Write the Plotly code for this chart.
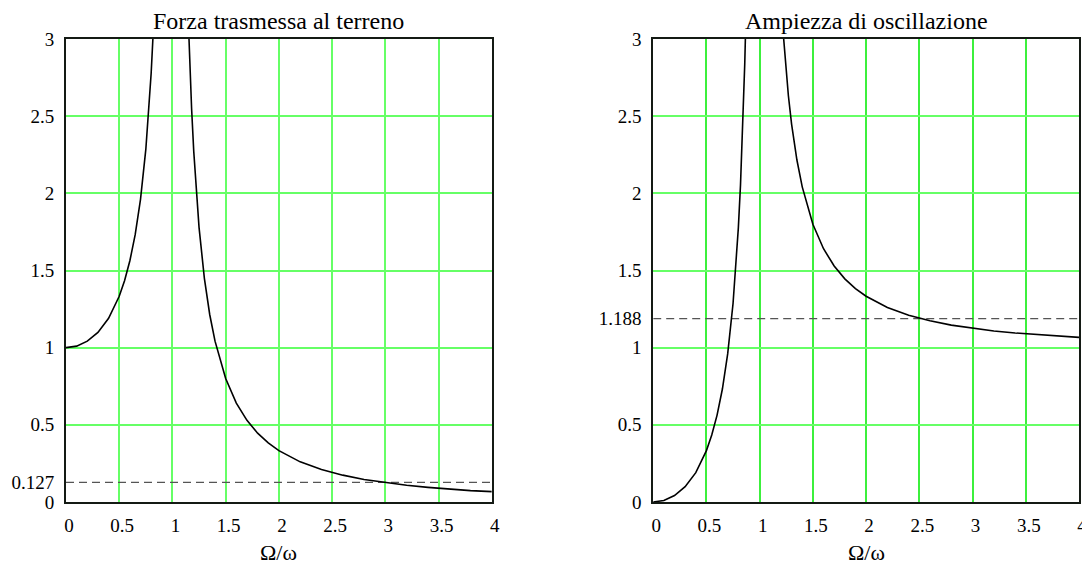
import plotly.graph_objects as go

# ---- data ----
# Left chart: "Forza trasmessa al terreno"
force_x_low = [0.0, 0.1, 0.2, 0.3, 0.4, 0.5, 0.55, 0.6, 0.65, 0.7, 0.75, 0.78, 0.8, 0.82]
force_y_low = [1.0, 1.01, 1.042, 1.099, 1.19, 1.333, 1.434, 1.563, 1.732, 1.961, 2.286, 2.554, 2.778, 3.053]
force_x_high = [1.15, 1.16, 1.18, 1.2, 1.25, 1.3, 1.35, 1.4, 1.5, 1.6, 1.7, 1.8, 1.9, 2.0, 2.2, 2.4, 2.6, 2.8, 3.0, 3.2, 3.4, 3.6, 3.8, 4.0]
force_y_high = [3.101, 2.894, 2.548, 2.273, 1.778, 1.449, 1.215, 1.042, 0.8, 0.641, 0.529, 0.446, 0.383, 0.333, 0.26, 0.21, 0.174, 0.146, 0.125, 0.108, 0.095, 0.084, 0.074, 0.067]
force_ref = 0.127

# Right chart: "Ampiezza di oscillazione"
amp_x_low = [0.0, 0.1, 0.2, 0.3, 0.4, 0.5, 0.55, 0.6, 0.65, 0.7, 0.75, 0.78, 0.8, 0.82, 0.84, 0.86, 0.87]
amp_y_low = [0.0, 0.01, 0.042, 0.099, 0.19, 0.333, 0.434, 0.563, 0.732, 0.961, 1.286, 1.554, 1.778, 2.053, 2.397, 2.84, 3.114]
amp_x_high = [1.22, 1.24, 1.27, 1.3, 1.35, 1.4, 1.5, 1.6, 1.7, 1.8, 1.9, 2.0, 2.2, 2.4, 2.6, 2.8, 3.0, 3.2, 3.4, 3.6, 3.8, 4.0]
amp_y_high = [3.048, 2.86, 2.632, 2.449, 2.216, 2.042, 1.8, 1.641, 1.529, 1.446, 1.383, 1.333, 1.26, 1.21, 1.174, 1.146, 1.125, 1.108, 1.095, 1.084, 1.074, 1.067]
amp_ref = 1.188

x_ticks = [0, 0.5, 1, 1.5, 2, 2.5, 3, 3.5, 4]
x_tick_text = ["0", "0.5", "1", "1.5", "2", "2.5", "3", "3.5", "4"]
y_grid = [0.5, 1, 1.5, 2, 2.5]
x_grid = [0.5, 1, 1.5, 2, 2.5, 3, 3.5]
titles = ["Forza trasmessa al terreno", "Ampiezza di oscillazione"]
x_title = "Ω/ω"

FONT = "Liberation Serif, Times New Roman, serif"
CURVE = dict(color="black", width=1.6)
DASH = dict(color="#555555", width=1.4, dash="8px,5px")

fig = go.Figure()

def add_panel(n, xs_lo, ys_lo, xs_hi, ys_hi, ref):
    xa = "x" if n == 1 else "x2"
    ya = "y" if n == 1 else "y2"
    fig.add_trace(go.Scatter(x=[x_ticks[0], x_ticks[-1]], y=[ref, ref], mode="lines", line=DASH,
                             xaxis=xa, yaxis=ya, showlegend=False))
    fig.add_trace(go.Scatter(x=xs_lo, y=ys_lo, mode="lines", line=CURVE, xaxis=xa, yaxis=ya, showlegend=False))
    fig.add_trace(go.Scatter(x=xs_hi, y=ys_hi, mode="lines", line=CURVE, xaxis=xa, yaxis=ya, showlegend=False))

add_panel(1, force_x_low, force_y_low, force_x_high, force_y_high, force_ref)
add_panel(2, amp_x_low, amp_y_low, amp_x_high, amp_y_high, amp_ref)

# page has an 8px body margin: figure starts at (8, 8)
OFF = 8
W, H = 1090 - OFF, 566 - OFF
ML, MR, MT, MB = 64 - OFF, 3, 39 - OFF, 64
pw = W - ML - MR
d1 = [0, 430 / pw]
d2 = [(657 - 64) / pw, 1]

def xaxis(domain, anchor, gridc, gridw):
    return dict(domain=domain, anchor=anchor, range=[0, 4], tickmode="array",
                tickvals=x_ticks, ticktext=x_tick_text, showgrid=False, zeroline=False,
                showline=True, mirror=True, linecolor="#141a14", linewidth=2,
                ticks="", ticklabelstandoff=5, ticklabelshift=3,
                tickfont=dict(family=FONT, size=19, color="black"),
                minor=dict(tickmode="array", tickvals=x_grid, showgrid=True,
                           gridcolor=gridc, gridwidth=gridw, ticks=""))

def yaxis(domain_anchor, ref, gridc, gridw):
    vals = sorted([0, 0.5, 1, 1.5, 2, 2.5, 3] + [ref])
    text = [("%g" % v) for v in vals]
    return dict(anchor=domain_anchor, range=[0, 3], tickmode="array", tickvals=vals, ticktext=text,
                showgrid=False, zeroline=False, showline=True, mirror=True,
                linecolor="#141a14", linewidth=2, ticks="", ticklabelstandoff=6,
                tickfont=dict(family=FONT, size=19, color="black"),
                minor=dict(tickmode="array", tickvals=y_grid, showgrid=True,
                           gridcolor=gridc, gridwidth=gridw, ticks=""))

fig.update_layout(
    width=W, height=H,
    margin=dict(l=ML, r=MR, t=MT, b=MB),
    paper_bgcolor="white", plot_bgcolor="white",
    font=dict(family=FONT, color="black"),
    xaxis=xaxis(d1, "y", "#66ff66", 1.5),
    yaxis=yaxis("x", force_ref, "#66ff66", 1.5),
    xaxis2=xaxis(d2, "y2", "#3cf03c", 1.5),
    yaxis2=yaxis("x2", amp_ref, "#66ff66", 1.5),
)

for dom, t in zip([d1, d2], titles):
    cx = (dom[0] + dom[1]) / 2
    fig.add_annotation(x=cx, y=1, xref="paper", yref="paper", text=t, showarrow=False,
                       xanchor="center", yanchor="bottom", yshift=3,
                       font=dict(family=FONT, size=24, color="black"))
    fig.add_annotation(x=cx, y=0, xref="paper", yref="paper", text=x_title, showarrow=False,
                       xanchor="center", yanchor="top", yshift=-36,
                       font=dict(family=FONT, size=22, color="black"))

fig.write_html("out.html")
